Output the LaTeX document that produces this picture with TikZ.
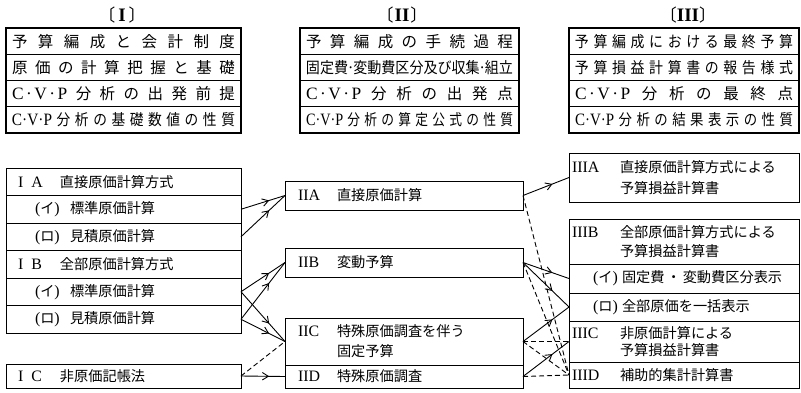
\documentclass[tikz,border=0pt]{standalone}
\usepackage{fontspec}
\setmainfont{Noto Sans CJK JP}
\newfontfamily\latf[Scale=1.12]{Liberation Serif}
\usepackage{graphicx}
\usetikzlibrary{arrows.meta,decorations.markings}
\newlength\fitlen
\newcommand\fitrow[2]{\settowidth\fitlen{#2}\ifdim\fitlen>#1\relax\resizebox{#1}{\height}{#2}\else\makebox[#1][s]{\spaceskip=1pt plus 1fil\relax #2}\fi}
\newcommand\rn[1]{{\latf #1}}
\newcommand\cvp{\rn{C}\hspace{2.5pt}\rn{·}\hspace{2.5pt}\rn{V}\hspace{2.5pt}\rn{·}\hspace{2.5pt}\rn{P}}
\begin{document}
\begin{tikzpicture}[x=1pt,y=-1pt,
  trow/.style={draw, line width=1.2pt, anchor=north west, inner sep=0pt, outer sep=0pt,
    minimum height=26.25pt, align=center, font=\fontsize{15.5}{18}\selectfont},
  lrow/.style={draw, line width=1pt, anchor=north west, inner sep=0pt, outer sep=0pt,
    align=left, font=\fontsize{14.2}{17}\selectfont},
  head/.style={inner sep=0pt, font=\fontsize{17}{20}\selectfont},
  conn/.style={line width=0.9pt},
  dconn/.style={line width=0.9pt, dash pattern=on 5pt off 3pt},
  midarrow/.style={postaction={decorate}, decoration={markings,
    mark=at position 0.64 with {\arrow{Straight Barb[length=6pt,width=7.5pt,line width=0.9pt]}}}}]
\useasboundingbox (0,0) rectangle (801,392);

% headers
\node[head] (h1) at (122,15) {〔\hspace{3pt}\rn{\bfseries I}\hspace{3pt}〕};
\node[head] (h2) at (402,15) {〔\hspace{1pt}\rn{\bfseries II}\hspace{1pt}〕};
\node[head] (h3) at (688,15) {〔\rn{\bfseries III}〕};

% table I
\node[trow, text width=235pt] (t1a) at (6,28) {\fitrow{223pt}{予 算 編 成 と 会 計 制 度}};
\node[trow, text width=235pt] (t1b) at (6,54.25) {\fitrow{223pt}{原 価 の 計 算 把 握 と 基 礎}};
\node[trow, text width=235pt] (t1c) at (6,80.5) {\fitrow{223pt}{\cvp{} 分 析 の 出 発 前 提}};
\node[trow, text width=235pt] (t1d) at (6,106.75) {\fitrow{223pt}{\rn{C·V·P} 分 析 の 基 礎 数 値 の 性 質}};

% table II
\node[trow, text width=219pt] (t2a) at (300,28) {\fitrow{207pt}{予 算 編 成 の 手 続 過 程}};
\node[trow, text width=219pt] (t2b) at (300,54.25) {\fitrow{207pt}{固定費\rn{·}変動費区分及び収集\rn{·}組立}};
\node[trow, text width=219pt] (t2c) at (300,80.5) {\fitrow{207pt}{\cvp{} 分 析 の 出 発 点}};
\node[trow, text width=219pt] (t2d) at (300,106.75) {\fitrow{207pt}{\rn{C·V·P} 分 析 の 算 定 公 式 の 性 質}};

% table III
\node[trow, text width=230pt] (t3a) at (569,28) {\fitrow{218pt}{予 算 編 成 に お け る 最 終 予 算}};
\node[trow, text width=230pt] (t3b) at (569,54.25) {\fitrow{218pt}{予 算 損 益 計 算 書 の 報 告 様 式}};
\node[trow, text width=230pt] (t3c) at (569,80.5) {\fitrow{218pt}{\cvp{} 分 析 の 最 終 点}};
\node[trow, text width=230pt] (t3d) at (569,106.75) {\fitrow{218pt}{\rn{C·V·P} 分 析 の 結 果 表 示 の 性 質}};

% left column
\node[lrow, text width=235pt, minimum height=27.5pt] (ia) at (6,168) {\hspace*{12pt}\makebox[42pt][l]{\rn{I\hspace{8pt}A}}直接原価計算方式};
\node[lrow, text width=235pt, minimum height=27.5pt] (iai) at (6,195.5) {\hspace*{29pt}\makebox[35pt][l]{\rn{(}イ\rn{)}}標準原価計算};
\node[lrow, text width=235pt, minimum height=27.5pt] (iar) at (6,223) {\hspace*{29pt}\makebox[35pt][l]{\rn{(}ロ\rn{)}}見積原価計算};
\node[lrow, text width=235pt, minimum height=27.5pt] (ib) at (6,250.5) {\hspace*{12pt}\makebox[42pt][l]{\rn{I\hspace{8pt}B}}全部原価計算方式};
\node[lrow, text width=235pt, minimum height=27.5pt] (ibi) at (6,278) {\hspace*{29pt}\makebox[35pt][l]{\rn{(}イ\rn{)}}標準原価計算};
\node[lrow, text width=235pt, minimum height=27.5pt] (ibr) at (6,305.5) {\hspace*{29pt}\makebox[35pt][l]{\rn{(}ロ\rn{)}}見積原価計算};
\node[lrow, text width=235pt, minimum height=24pt] (ic) at (6,364) {\hspace*{12pt}\makebox[42pt][l]{\rn{I\hspace{8pt}C}}非原価記帳法};

% middle column
\node[lrow, text width=238pt, minimum height=29pt] (iia) at (285,181) {\hspace*{13pt}\makebox[39pt][l]{\rn{IIA}}直接原価計算};
\node[lrow, text width=238pt, minimum height=29pt] (iib) at (285,248) {\hspace*{13pt}\makebox[39pt][l]{\rn{IIB}}変動予算};
\node[lrow, text width=238pt, minimum height=47pt, font=\fontsize{14.2}{20}\selectfont] (iic) at (285,318) {\hspace*{13pt}\makebox[39pt][l]{\rn{IIC}}特殊原価調査を伴う\\\hspace*{52pt}固定予算};
\node[lrow, text width=238pt, minimum height=23pt] (iid) at (285,365) {\hspace*{13pt}\makebox[39pt][l]{\rn{IID}}特殊原価調査};

% right column
\node[lrow, text width=230pt, minimum height=49pt, font=\fontsize{14.2}{21}\selectfont] (iiia) at (569,153) {\hspace*{3pt}\makebox[48pt][l]{\rn{IIIA}}直接原価計算方式による\\\hspace*{51pt}予算損益計算書};
\node[lrow, text width=230pt, minimum height=45pt, font=\fontsize{14.2}{19}\selectfont] (iiib) at (569,219) {\hspace*{3pt}\makebox[48pt][l]{\rn{IIIB}}全部原価計算方式による\\\hspace*{51pt}予算損益計算書};
\node[lrow, text width=230pt, minimum height=29pt] (iiibi) at (569,264) {\hspace*{24pt}\makebox[29pt][l]{\rn{(}イ\rn{)}}固定費\hspace{2pt}・\hspace{2pt}変動費区分表示};
\node[lrow, text width=230pt, minimum height=28pt] (iiibr) at (569,293) {\hspace*{24pt}\makebox[29pt][l]{\rn{(}ロ\rn{)}}全部原価を一括表示};
\node[lrow, text width=230pt, minimum height=41pt, font=\fontsize{14.2}{17}\selectfont] (iiic) at (569,321) {\hspace*{3pt}\makebox[48pt][l]{\rn{IIIC}}非原価計算による\\\hspace*{51pt}予算損益計算書};
\node[lrow, text width=230pt, minimum height=26pt] (iiid) at (569,362) {\hspace*{3pt}\makebox[48pt][l]{\rn{IIID}}補助的集計計算書};

% connectors left -> middle
\draw[conn,midarrow] (iai.east) -- (iia.west);
\draw[conn,midarrow] (iar.east) -- (iia.west);
\draw[conn,midarrow] (ibi.east) -- (iib.west);
\draw[conn,midarrow] (ibr.east) -- (iib.west);
\draw[conn,midarrow] (ibi.east) -- (iic.west);
\draw[conn,midarrow] (ibr.east) -- (iic.west);
\draw[dconn] (ic.east) -- (iic.west);
\draw[conn,midarrow] (ic.east) -- (iid.west);

% connectors middle -> right
\draw[conn,midarrow] (iia.east) -- (iiia.west);
\draw[dconn] (iia.east) -- (iiid.west);
\draw[conn,midarrow] (iib.east) -- (iiibi.west);
\draw[conn,midarrow] (iib.east) -- (iiibr.west);
\draw[dconn] (iib.east) -- (iiid.west);
\draw[conn,midarrow] (iic.east) -- (iiibr.west);
\draw[dconn] (iic.east) -- (iiic.west);
\draw[dconn] (iic.east) -- (iiid.west);
\draw[conn,midarrow] (iid.east) -- (iiic.west);
\draw[dconn] (iid.east) -- (iiid.west);
\end{tikzpicture}
\end{document}
